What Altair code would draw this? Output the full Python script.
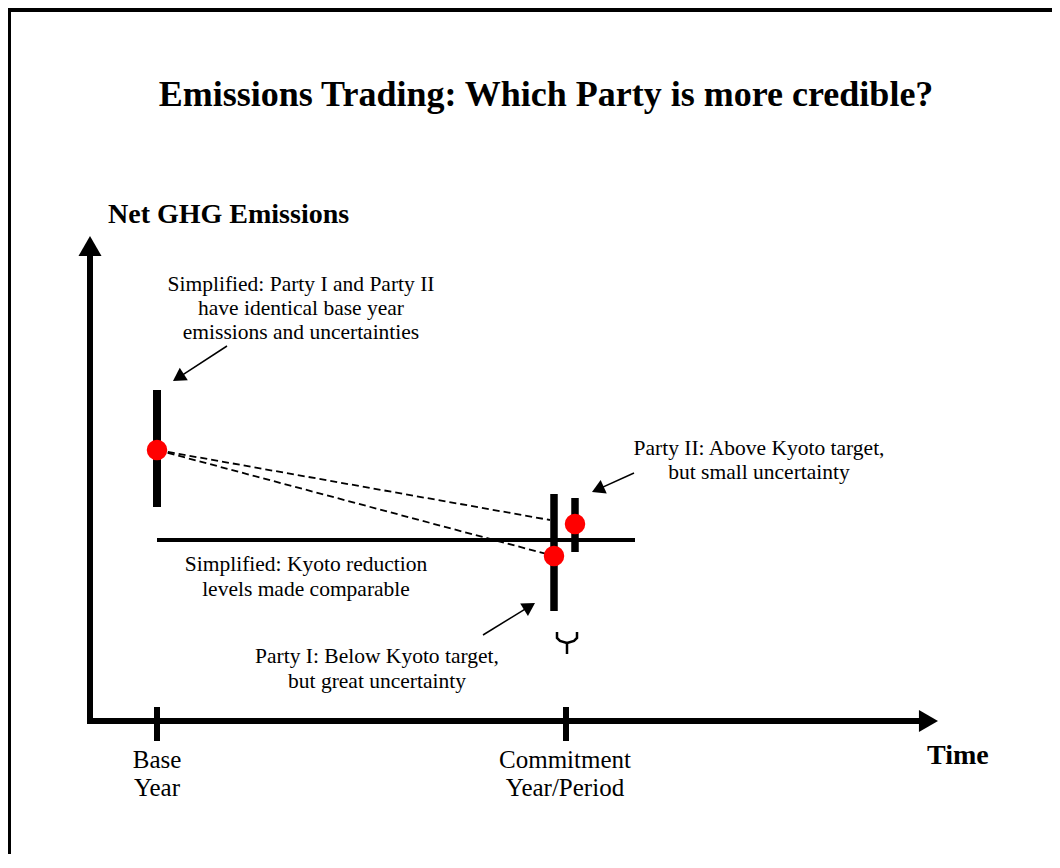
import altair as alt
import pandas as pd
import numpy as np

# Diagram units: 1 unit = 1 px, origin where the two axes cross, y pointing up.
X_DOMAIN = [-82, 962]
Y_DOMAIN = [-133, 713]
W, H = 1044, 846

# ---- conceptual data ----
# time axis positions
tick_time = [67, 476]
# emission estimates with uncertainty ranges
party_names = ["Base year (Party I & II)", "Party I", "Party II"]
party_time = [67, 464, 485]
party_emis = [271, 165, 197]
party_low = [214, 110, 169]
party_high = [331, 227, 223]
# Kyoto target level (made comparable)
kyoto_level = 181
kyoto_from, kyoto_to = 67, 545
# dashed trend lines: base point -> commitment estimates
dash_x1 = [67, 67]
dash_y1 = [271, 271]
dash_x2 = [464, 460]
dash_y2 = [165, 201]

# arrows: axes + annotation pointers
arrow_sx = [0, -3, 137, 544, 393]
arrow_sy = [-3, 0, 375, 248, 86]
arrow_tx = [0, 848, 83, 502, 445]
arrow_ty = [485, 0, 340, 229, 118]
arrow_head = [529, 484, 220, 220, 220]
arrow_w = [6, 6, 1.5, 1.5, 1.5]

# brace under the two commitment-period bars
brace_x = [467, 467, 470, 477, 487, 487, 484, 477, 477, 477]
brace_y = [89, 83, 80, 78, 89, 83, 80, 78, 78, 67]
brace_part = ["l", "l", "l", "l", "r", "r", "r", "r", "s", "s"]

# texts
title_text = "Emissions Trading: Which Party is more credible?"
title_pos = (456, 626)
bold_left_text = ["Net GHG Emissions", "Time"]
bold_left_x = [18, 837]
bold_left_y = [506, -35]

note_text = [
    "Simplified: Party I and Party II", "have identical base year", "emissions and uncertainties",
    "Party II: Above Kyoto target,", "but small uncertainty",
    "Simplified: Kyoto reduction", "levels made comparable",
    "Party I: Below Kyoto target,", "but great uncertainty",
    "Base", "Year", "Commitment", "Year/Period",
]
note_x = [211, 211, 211, 669, 669, 216, 216, 287, 287, 67, 67, 475, 475]
note_y = [436, 412, 388, 272, 248, 156, 131, 64, 39, -39, -67, -39, -67]
note_size = [21.5] * 9 + [25] * 4

# ---- build tables ----
xs = alt.Scale(domain=X_DOMAIN, nice=False, zero=False)
ys = alt.Scale(domain=Y_DOMAIN, nice=False, zero=False)

def X(f="x"):
    return alt.X(f"{f}:Q", scale=xs, axis=None)

def Y(f="y"):
    return alt.Y(f"{f}:Q", scale=ys, axis=None)

# arrows geometry
sx, sy, tx, ty = map(np.array, (arrow_sx, arrow_sy, arrow_tx, arrow_ty))
dx, dy = tx - sx, ty - sy
ln = np.hypot(dx, dy)
h = 0.433 * np.sqrt(np.array(arrow_head))
cx, cy = tx - h * dx / ln, ty - h * dy / ln
ang = np.degrees(np.arctan2(dx, dy)) % 360
arrow_lines = pd.DataFrame({"x": sx, "y": sy, "x2": cx, "y2": cy, "w": arrow_w})
arrow_heads = pd.DataFrame({"x": cx, "y": cy, "size": arrow_head, "angle": ang})

# solid thick segments: ticks, bars, kyoto line, frame
seg = pd.DataFrame({
    "x": [tick_time[0], tick_time[1]] + party_time + [kyoto_from, X_DOMAIN[0], -80.5],
    "x2": [tick_time[0], tick_time[1]] + party_time + [kyoto_to, X_DOMAIN[1], -80.5],
    "y": [14, 14] + party_high + [kyoto_level, 711, Y_DOMAIN[1]],
    "y2": [-20, -20] + party_low + [kyoto_level, 711, Y_DOMAIN[0]],
    "w": [6, 6, 8, 7.5, 7.5, 4, 4, 3],
})

dashes = pd.DataFrame({"x": dash_x1, "y": dash_y1, "x2": dash_x2, "y2": dash_y2})
points = pd.DataFrame({"x": party_time, "y": party_emis, "name": party_names})
brace = pd.DataFrame({"x": brace_x, "y": brace_y, "part": brace_part,
                      "o": list(range(len(brace_x)))})
notes = pd.DataFrame({"x": note_x, "y": note_y, "t": note_text, "s": note_size})
bolds = pd.DataFrame({"x": bold_left_x, "y": bold_left_y, "t": bold_left_text})
title_df = pd.DataFrame({"x": [title_pos[0]], "y": [title_pos[1]], "t": [title_text]})

FONT = "Liberation Serif"

seg_layer = alt.Chart(seg).mark_rule(color="black", strokeCap="butt").encode(
    x=X(), y=Y(), x2="x2:Q", y2="y2:Q", strokeWidth=alt.StrokeWidth("w:Q", scale=None))

dash_layer = alt.Chart(dashes).mark_rule(color="black", strokeWidth=1.8, strokeDash=[7, 4]).encode(
    x=X(), y=Y(), x2="x2:Q", y2="y2:Q")

arrow_line_layer = alt.Chart(arrow_lines).mark_rule(color="black", strokeCap="butt").encode(
    x=X(), y=Y(), x2="x2:Q", y2="y2:Q", strokeWidth=alt.StrokeWidth("w:Q", scale=None))

arrow_head_layer = alt.Chart(arrow_heads).mark_point(
    shape="triangle-up", filled=True, color="black", opacity=1, strokeWidth=0).encode(
    x=X(), y=Y(), size=alt.Size("size:Q", scale=None), angle=alt.Angle("angle:Q", scale=None))

brace_layer = alt.Chart(brace).mark_line(color="black", strokeWidth=2.5).encode(
    x=X(), y=Y(), detail="part:N", order="o:Q")

point_layer = alt.Chart(points).mark_point(
    shape="circle", filled=True, color="#ff0000", opacity=1, size=420, strokeWidth=0).encode(
    x=X(), y=Y())

note_layer = alt.Chart(notes).mark_text(font=FONT, color="black", align="center", baseline="middle").encode(
    x=X(), y=Y(), text="t:N", size=alt.Size("s:Q", scale=None))

bold_layer = alt.Chart(bolds).mark_text(font=FONT, fontWeight="bold", fontSize=28, color="black",
                                        align="left", baseline="middle").encode(
    x=X(), y=Y(), text="t:N")

title_layer = alt.Chart(title_df).mark_text(font=FONT, fontWeight="bold", fontSize=36, color="black",
                                            align="center", baseline="middle").encode(
    x=X(), y=Y(), text="t:N")

chart = alt.layer(
    seg_layer, dash_layer, arrow_line_layer, arrow_head_layer, brace_layer,
    point_layer, note_layer, bold_layer, title_layer
).properties(
    width=W, height=H, padding=0, background="white",
    autosize=alt.AutoSizeParams(type="none"),
).configure_view(stroke=None)

chart.save("out.html", embed_options={"renderer": "svg", "actions": False})
